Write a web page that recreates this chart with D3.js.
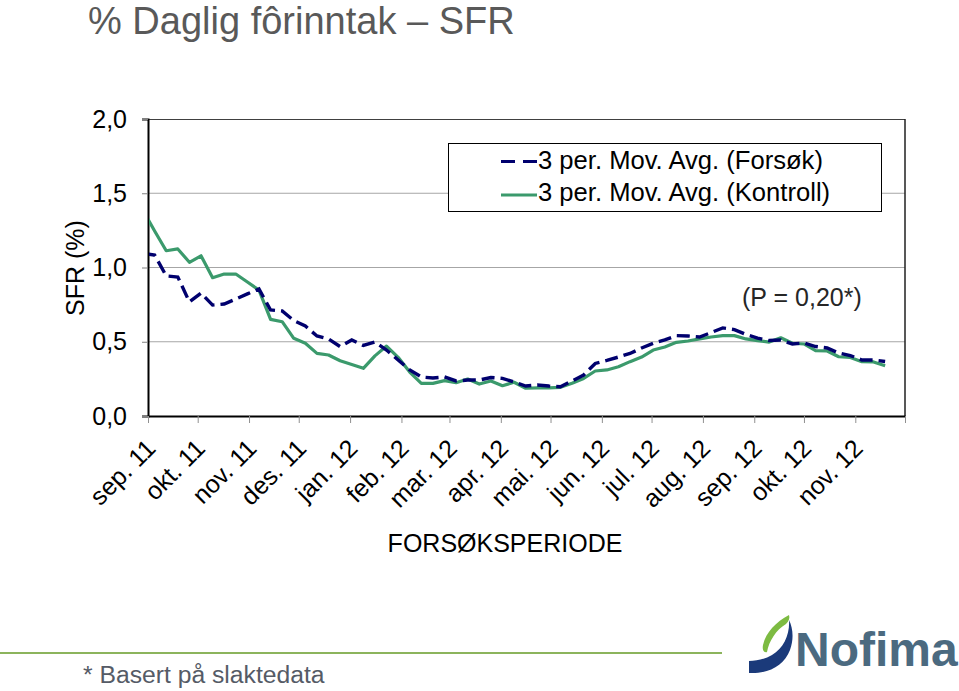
<!DOCTYPE html>
<html>
<head>
<meta charset="utf-8">
<script src="https://cdn.jsdelivr.net/npm/d3@7"></script>
<style>
  html, body { margin: 0; padding: 0; background: #fff; }
  svg { display: block; font-family: Arial, "Liberation Sans", sans-serif; }
</style>
</head>
<body>
<svg id="chart" width="959" height="691"></svg>
<script>
// ---------- data ----------
const monthLabels = ["sep. 11","okt. 11","nov. 11","des. 11","jan. 12","feb. 12","mar. 12",
  "apr. 12","mai. 12","jun. 12","jul. 12","aug. 12","sep. 12","okt. 12","nov. 12"];
const yTicks = [0, 0.5, 1.0, 1.5, 2.0];
const firstWeek = new Date(2011, 7, 29); // weekly points, first one falls just before the axis start

const forsok = [1.094, 1.084, 0.943, 0.936, 0.768, 0.828, 0.747, 0.754, 0.788, 0.822,
  0.855, 0.714, 0.707, 0.643, 0.606, 0.539, 0.519, 0.467, 0.512, 0.475,
  0.498, 0.444, 0.377, 0.310, 0.263, 0.256, 0.263, 0.236, 0.242, 0.242,
  0.259, 0.253, 0.229, 0.202, 0.209, 0.202, 0.197, 0.236, 0.276, 0.354,
  0.374, 0.397, 0.421, 0.458, 0.490, 0.512, 0.541, 0.539, 0.532, 0.562,
  0.593, 0.582, 0.549, 0.525, 0.508, 0.512, 0.485, 0.492, 0.468, 0.458,
  0.424, 0.407, 0.377, 0.377, 0.367];

const kontroll = [1.383, 1.246, 1.113, 1.125, 1.035, 1.079, 0.931, 0.956, 0.956, 0.902,
  0.848, 0.651, 0.635, 0.523, 0.490, 0.422, 0.411, 0.372, 0.347, 0.321,
  0.405, 0.471, 0.395, 0.296, 0.220, 0.220, 0.238, 0.224, 0.249, 0.215,
  0.236, 0.204, 0.227, 0.187, 0.189, 0.189, 0.193, 0.220, 0.253, 0.303,
  0.310, 0.332, 0.366, 0.397, 0.444, 0.465, 0.496, 0.505, 0.519, 0.532,
  0.541, 0.541, 0.519, 0.508, 0.498, 0.527, 0.490, 0.485, 0.440, 0.438,
  0.399, 0.394, 0.366, 0.364, 0.339];

const seriesNames = ["3 per. Mov. Avg. (Forsøk)", "3 per. Mov. Avg. (Kontroll)"];

// ---------- layout ----------
const svg = d3.select("#chart");
const L = 148, R = 905, T = 119, B = 416;
const navy = "#00006e", green = "#3b9a6c";

const x = d3.scaleTime()
  .domain([new Date(2011, 8, 1), new Date(2012, 11, 1)])
  .range([L, R]);
const y = d3.scaleLinear().domain([0, 2]).range([B, T]);

const weekDates = forsok.map((_, i) => d3.timeDay.offset(firstWeek, 7 * i));
const monthTicks = d3.timeMonth.range(new Date(2011, 8, 1), new Date(2012, 11, 2));

// title
svg.append("text").attr("x", 88).attr("y", 34)
  .attr("font-size", 38).attr("fill", "#595959")
  .text("% Daglig fôrinntak – SFR");

// gridlines
svg.append("g").selectAll("line").data([0.5, 1.0, 1.5]).join("line")
  .attr("x1", L).attr("x2", R)
  .attr("y1", d => y(d)).attr("y2", d => y(d))
  .attr("stroke", "#a6a6a6").attr("stroke-width", 1);

// plot frame (top/right)
svg.append("line").attr("x1", L).attr("x2", R).attr("y1", T + 0.5).attr("y2", T + 0.5)
  .attr("stroke", "#404040").attr("stroke-width", 1);
svg.append("line").attr("x1", R).attr("x2", R).attr("y1", T).attr("y2", B)
  .attr("stroke", "#202020").attr("stroke-width", 1.5);

// y axis
const yAxis = svg.append("g").attr("transform", `translate(${L},0)`)
  .call(d3.axisLeft(y).tickValues(yTicks)
    .tickFormat(d => d.toFixed(1).replace(".", ","))
    .tickSize(6).tickPadding(15));
yAxis.select(".domain").attr("stroke", "#000").attr("stroke-width", 2);
yAxis.selectAll(".tick line").attr("stroke", "#808080");
yAxis.selectAll(".tick text").attr("font-size", 25).attr("fill", "#000")
  .attr("font-family", "Arial, 'Liberation Sans', sans-serif");

// x axis
const xAxis = svg.append("g").attr("transform", `translate(0,${B})`)
  .call(d3.axisBottom(x).tickValues(monthTicks).tickFormat("").tickSize(7).tickSizeOuter(0));
xAxis.select(".domain").attr("stroke", "#000").attr("stroke-width", 2);
xAxis.selectAll(".tick line").attr("stroke", "#909090");

// x labels (rotated)
svg.append("g").selectAll("text").data(monthLabels).join("text")
  .attr("transform", (d, i) => `translate(${x(monthTicks[i]) + 9},${B + 34}) rotate(-45)`)
  .attr("text-anchor", "end")
  .attr("font-size", 25).attr("fill", "#000")
  .text(d => d);

// axis titles
svg.append("text").attr("transform", "translate(84,268) rotate(-90)")
  .attr("text-anchor", "middle").attr("font-size", 25).attr("fill", "#000")
  .text("SFR (%)");
svg.append("text").attr("x", 505).attr("y", 552)
  .attr("text-anchor", "middle").attr("font-size", 25).attr("fill", "#000")
  .text("FORSØKSPERIODE");

// lines
svg.append("clipPath").attr("id", "plotclip")
  .append("rect").attr("x", L + 1).attr("y", T).attr("width", R - L - 1).attr("height", B - T);

const line = d3.line().x((d, i) => x(weekDates[i])).y(d => y(d));
const plot = svg.append("g").attr("clip-path", "url(#plotclip)");
plot.append("path").datum(kontroll).attr("d", line)
  .attr("fill", "none").attr("stroke", green).attr("stroke-width", 3.2)
  .attr("stroke-linejoin", "round");
plot.append("path").datum(forsok).attr("d", line)
  .attr("fill", "none").attr("stroke", navy).attr("stroke-width", 3.4)
  .attr("stroke-dasharray", "13,6");

// legend
const lg = svg.append("g");
lg.append("rect").attr("x", 448.5).attr("y", 143.5).attr("width", 433).attr("height", 68)
  .attr("fill", "#fff").attr("stroke", "#000").attr("stroke-width", 1);
const legendItems = [
  { name: seriesNames[0], color: navy, dash: "14,8", y: 161.5, ty: 168.5 },
  { name: seriesNames[1], color: green, dash: null, y: 195, ty: 201 }
];
legendItems.forEach(it => {
  lg.append("line").attr("x1", 501).attr("x2", 537).attr("y1", it.y).attr("y2", it.y)
    .attr("stroke", it.color).attr("stroke-width", 3.2)
    .attr("stroke-dasharray", it.dash);
  lg.append("text").attr("x", 538).attr("y", it.ty).attr("font-size", 25.6)
    .attr("fill", "#000").text(it.name);
});

// annotation
svg.append("text").attr("x", 742).attr("y", 306).attr("font-size", 25)
  .attr("fill", "#262626").text("(P = 0,20*)");

// footer
svg.append("line").attr("x1", 0).attr("x2", 722).attr("y1", 653).attr("y2", 653)
  .attr("stroke", "#8cb45c").attr("stroke-width", 2);
svg.append("text").attr("x", 83).attr("y", 683).attr("font-size", 24.7)
  .attr("fill", "#555b66").text("* Basert på slaktedata");

// logo
const logo = svg.append("g");
logo.append("path")
  .attr("d", "M789,615 C776,622 766,632 763,645 C762,650 764,653 767,652 C769,641 776,630 786,624 C789,621 790,618 789,615 Z")
  .attr("fill", "#7dbb42");
logo.append("path")
  .attr("d", "M749,661 L749,673 C768,674 784,666 790,650 C794,639 793,628 789,620 C790,634 784,648 772,655 C765,659 757,661 749,661 Z")
  .attr("fill", "#1b3a7a");
logo.append("text").attr("x", 795).attr("y", 666).attr("font-size", 48)
  .attr("font-weight", "bold").attr("fill", "#4b6a80").text("Nofima");
</script>
</body>
</html>
